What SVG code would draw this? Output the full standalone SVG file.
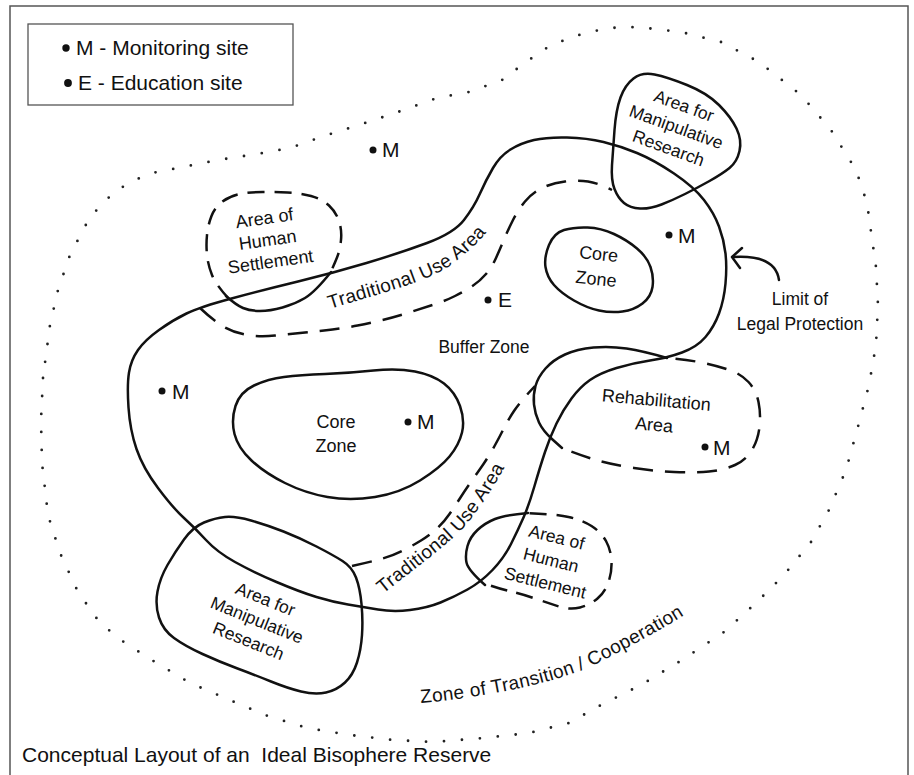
<svg xmlns="http://www.w3.org/2000/svg" width="914" height="775" viewBox="0 0 914 775">
<style>
text{font-family:"Liberation Sans",Arial,Helvetica,sans-serif;fill:#111}
.s{fill:none;stroke:#111;stroke-width:2.5;stroke-linecap:round;stroke-linejoin:round}
.d{fill:none;stroke:#111;stroke-width:2.5;stroke-dasharray:20 12}
.dot{fill:none;stroke:#222;stroke-width:2.8;stroke-linecap:round;stroke-dasharray:0 18}
.lbl{font-size:18px;text-anchor:middle}
.sm{font-size:17.5px;text-anchor:middle}
.site{font-size:21px}
.curv{font-size:19px;letter-spacing:0.3px}
</style>
<defs>
<path id="tp1" d="M330,309 C380,293 430,282 455,262 S482,238 495,222"/>
<path id="tp2" d="M383,594 C423,562 454.5,540 470,520 S500,478 518,442"/>
<path id="tp3" d="M421,703 C480,698 560,683 600,662 S665,628 695,608"/>
</defs>
<rect width="914" height="775" fill="#fff"/>
<rect x="10" y="6" width="898" height="790" fill="none" stroke="#555" stroke-width="1.5"/>

<g id="legend">
<rect x="28" y="24" width="265" height="81" fill="none" stroke="#555" stroke-width="1.3"/>
<circle cx="66" cy="48" r="3.7" fill="#111"/>
<text x="76" y="55" class="site">M - Monitoring site</text>
<circle cx="68" cy="83" r="3.9" fill="#111"/>
<text x="78" y="90" class="site">E - Education site</text>
</g>

<g id="zone-of-transition">
<path class="dot" d="M43,378 L41,420 L42,463 L48,515 L60,553 L78,592 L100,623 L125,643 L155,662 L190,683 L225,698 L265,715 L307,728 L350,735 L393,740 L433,742 L484,738 L529,733 L569,723 L601,705 L641,685 L682,660 L724,632 L757,602 L784,575 L811,542 L829,510 L846,470 L859,423 L869,385 L876,345 L878,305 L876,267 L867,203 L856,170 L831,130 L801,95 L759,62 L721,42 L681,32 L637,27 L607,28 L579,35 L551,45 L526,62 L502,80 L469,92 L437,98 L398,112 L362,124 L327,135 L290,148 L257,154 L218,160 L183,167 L147,174 L115,191 L90,217 L70,255 L58,290 L50,325 Z"/>
<text class="curv"><textPath href="#tp3">Zone of Transition / Cooperation</textPath></text>
</g>

<g id="limit-of-legal-protection">
<path class="s" d="M128.5,407.5 Q127,385 129,372.5 Q131,360 138,350 Q145,340 159,330 Q173,320 186.5,313.5 Q200,307 231.5,298.5 Q263,290 298,281.5 Q333,273 366.5,263 Q400,253 427,243 Q454,233 464,220 Q474,207 480,193.5 Q486,180 493,168 Q500,156 510.5,149.5 Q521,143 534,140 Q547,137 567,137.5 Q587,138 603.5,142 Q620,146 637,153 Q654,160 674,173.5 Q694,187 704,200 Q714,213 719,226.5 Q724,240 725.5,253.5 Q727,267 725.5,283.5 Q724,300 719,313.5 Q714,327 705.5,337 Q697,347 682,352.5 Q667,358 650,360.5 Q633,363 616.5,368 Q600,373 590,380 Q580,387 571.5,398.5 Q563,410 556.5,423.5 Q550,437 545,452 Q540,467 534.5,486 Q529,505 523.5,517.5 Q518,530 511,544 Q504,558 492.5,570 Q481,582 467.5,589.5 Q454,597 440.5,602.5 Q427,608 410,610 Q393,612 378,609.5 Q363,607 348,604.5 Q333,602 316.5,597 Q300,592 276.5,582 Q253,572 235,562 Q217,552 206,540 Q195,528 184,518 Q173,508 158,488 Q143,468 136.5,449 Q130,430 128.5,407.5 Z"/>
<text x="800" y="305" class="sm">Limit of</text>
<text x="800" y="330" class="sm">Legal Protection</text>
</g>

<g id="buffer-zone">
<text x="484" y="353" class="lbl" style="font-size:17.5px">Buffer Zone</text>
</g>

<g id="traditional-use-upper">
<path class="d" d="M200,308 Q215,322 225,327.5 Q235,333 247.5,335 Q260,337 275,335.5 Q290,334 305,332.5 Q320,331 332.5,329.5 Q345,328 357.5,325.5 Q370,323 382.5,320 Q395,317 407.5,313 Q420,309 432.5,305 Q445,301 455,296 Q465,291 472.5,286 Q480,281 486,274 Q492,267 496,258 Q500,249 504,239.5 Q508,230 513,220 Q518,210 525,201.5 Q532,193 542,188 Q552,183 565,181.5 Q578,180 588,181.5 Q598,183 612,190"/>
<text class="curv"><textPath href="#tp1">Traditional Use Area</textPath></text>
</g>

<g id="traditional-use-lower">
<path class="d" d="M352,566 Q370,562 381,559 Q392,556 402,551 Q412,546 421,540.5 Q430,535 437,528.5 Q444,522 449.5,514 Q455,506 460.5,497.5 Q466,489 472,480.5 Q478,472 483.5,464 Q489,456 494,447 Q499,438 503.5,429 Q508,420 514,411 Q520,402 535,386"/>
<text class="curv"><textPath href="#tp2">Traditional Use Area</textPath></text>
</g>

<g id="core-zone-upper">
<path class="s" d="M549,245 Q554,233 564,230 Q574,227 587.5,227.5 Q601,228 614,234 Q627,240 637,248.5 Q647,257 650.5,267 Q654,277 652.5,287 Q651,297 642.5,303.5 Q634,310 622.5,311.5 Q611,313 599,310.5 Q587,308 574,300.5 Q561,293 554,285 Q547,277 545.5,267 Q544,257 549,245 Z"/>
<g transform="rotate(6 597 270)">
<text x="597" y="260" class="lbl">Core</text>
<text x="597" y="285" class="lbl">Zone</text>
</g>
</g>

<g id="core-zone-lower">
<path class="s" d="M235.5,406 Q240,392 254,385.5 Q268,379 284,377 Q300,375 325,374 Q350,373 373.5,370.5 Q397,368 415,371.5 Q433,375 444,383.5 Q455,392 460,406 Q465,420 462,432.5 Q459,445 449.5,456.5 Q440,468 420,480.5 Q400,493 375,497 Q350,501 327.5,497 Q305,493 285,483 Q265,473 251.5,460.5 Q238,448 234.5,434 Q231,420 235.5,406 Z"/>
<text x="336" y="428" class="lbl">Core</text>
<text x="336" y="452" class="lbl">Zone</text>
</g>

<g id="manipulative-research-upper">
<path class="s" d="M612,165 Q613,150 614.5,130 Q616,110 620.5,97.5 Q625,85 633.5,78.5 Q642,72 654.5,74.5 Q667,77 687,85 Q707,93 719,105 Q731,117 736.5,128.5 Q742,140 739.5,151 Q737,162 729.5,168 Q722,174 709.5,181 Q697,188 685,194 Q673,200 661.5,204.5 Q650,209 640,208.5 Q630,208 624,203 Q618,198 614.5,189 Q611,180 612,165 Z"/>
<g transform="rotate(20 677 125)">
<text x="677" y="110.5" class="sm">Area for</text>
<text x="677" y="133" class="sm">Manipulative</text>
<text x="677" y="155.5" class="sm">Research</text>
</g>
</g>

<g id="manipulative-research-lower">
<path class="s" d="M184,539.5 Q193,527 204,522.5 Q215,518 225,517 Q235,516 251,520.5 Q267,525 283.5,531.5 Q300,538 316.5,546.5 Q333,555 342.5,561 Q352,567 356,577.5 Q360,588 361.5,604 Q363,620 362,635 Q361,650 357,662.5 Q353,675 345,682.5 Q337,690 326,692.5 Q315,695 301,691.5 Q287,688 271,681.5 Q255,675 237.5,668.5 Q220,662 202.5,654 Q185,646 174,638 Q163,630 159,617.5 Q155,605 157.5,591.5 Q160,578 167.5,565 Q175,552 184,539.5 Z"/>
<g transform="rotate(22 257 620)">
<text x="257" y="603.5" class="sm">Area for</text>
<text x="257" y="626" class="sm">Manipulative</text>
<text x="257" y="648.5" class="sm">Research</text>
</g>
</g>

<g id="human-settlement-upper">
<path class="d" d="M229,299 Q216,285 212,275 Q208,265 207,255 Q206,245 207,235 Q208,225 211.5,216 Q215,207 222.5,201.5 Q230,196 240,194 Q250,192 262.5,192 Q275,192 287.5,192.5 Q300,193 311,196 Q322,199 329,205.5 Q336,212 339,221 Q342,230 341,240 Q340,250 337,257.5 Q334,265 329,276" style="stroke-dasharray:17 10"/>
<path class="s" d="M331,272 Q315,292 305,298 Q295,304 282.5,307.5 Q270,311 260,311 Q250,311 243,308 Q236,305 226,296"/>
<g transform="rotate(-8 268 243)">
<text x="268" y="224" class="lbl">Area of</text>
<text x="268" y="246" class="lbl">Human</text>
<text x="268" y="268" class="lbl">Settlement</text>
</g>
</g>

<g id="human-settlement-lower">
<path class="s" d="M528,513 Q505,515 495,519 Q485,523 477.5,530 Q470,537 467.5,546 Q465,555 466.5,562.5 Q468,570 485,585"/>
<path class="d" d="M483,583 Q500,589 511,591.5 Q522,594 535,598.5 Q548,603 559,606.5 Q570,610 580,607.5 Q590,605 597.5,598.5 Q605,592 608.5,582 Q612,572 611.5,561 Q611,550 606,541 Q601,532 591.5,526 Q582,520 568.5,517 Q555,514 525,513" style="stroke-dasharray:17 10;stroke-dashoffset:-8"/>
<g transform="rotate(14 551 560)">
<text x="551" y="542.5" class="sm">Area of</text>
<text x="551" y="566" class="sm">Human</text>
<text x="551" y="589.5" class="sm">Settlement</text>
</g>
</g>

<g id="rehabilitation-area">
<path class="s" d="M667,358 Q643,351 626.5,348.5 Q610,346 593.5,347.5 Q577,349 565,354.5 Q553,360 545.5,368.5 Q538,377 535.5,386 Q533,395 534,404.5 Q535,414 539,422.5 Q543,431 552.5,439.5 L562,448"/>
<path class="d" d="M562,448 Q585,457 599.5,461 Q614,465 634,468 Q654,471 674,472 Q694,473 709,471.5 Q724,470 735,465 Q746,460 752,450 Q758,440 759.5,427 Q761,414 758.5,402 Q756,390 748.5,382 Q741,374 729.5,370 Q718,366 704,363 Q690,360 667,358" style="stroke-dashoffset:-10"/>
<g transform="rotate(5 655 415)">
<text x="655" y="406" class="lbl">Rehabilitation</text>
<text x="655" y="431" class="lbl">Area</text>
</g>
</g>

<g id="sites">
<circle cx="373" cy="150" r="3.5" fill="#111"/><text x="382" y="157" class="site">M</text>
<circle cx="669" cy="235" r="3.5" fill="#111"/><text x="678" y="243" class="site">M</text>
<circle cx="162" cy="391" r="3.5" fill="#111"/><text x="172" y="399" class="site">M</text>
<circle cx="408" cy="422" r="3.5" fill="#111"/><text x="417" y="429" class="site">M</text>
<circle cx="705" cy="447" r="3.5" fill="#111"/><text x="713" y="455" class="site">M</text>
<circle cx="488" cy="300" r="3.5" fill="#111"/><text x="498" y="307" class="site">E</text>
</g>

<g id="connectors">
<path class="s" d="M779,280 C777,266 765,255 733,257"/>
<path class="s" d="M742,248 L732,257 L740,268"/>
</g>

<text x="22" y="762" style="font-size:21px;white-space:pre">Conceptual Layout of an  Ideal Bisophere Reserve</text>
</svg>
